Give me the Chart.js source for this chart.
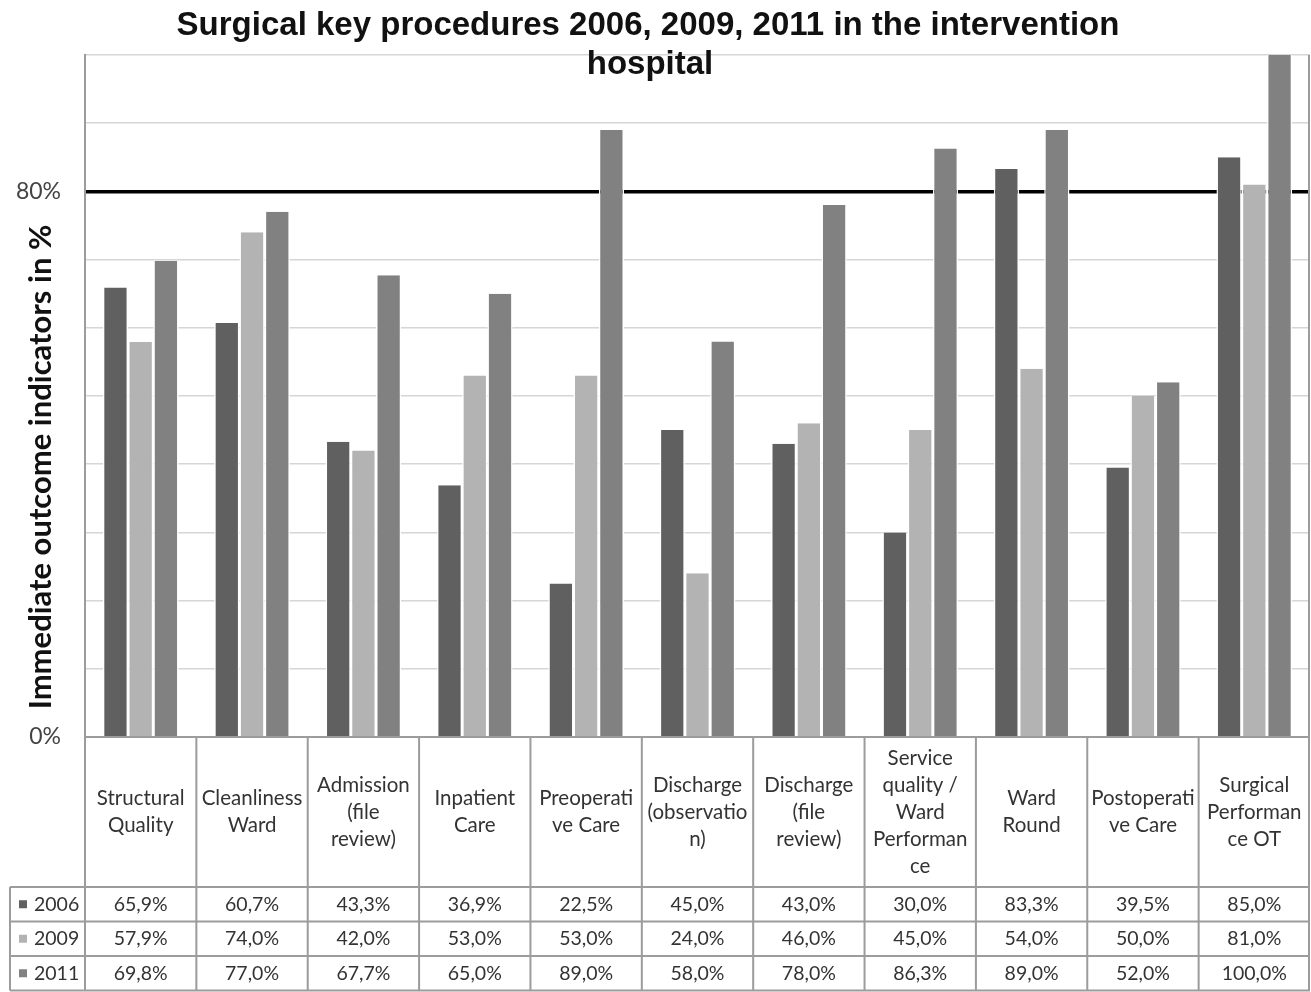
<!DOCTYPE html>
<html>
<head>
<meta charset="utf-8">
<title>Surgical key procedures</title>
<script src="https://cdn.jsdelivr.net/npm/chart.js@4.4.1/dist/chart.umd.min.js"></script>
<style>
  html, body { margin: 0; padding: 0; background: #fff; }
  canvas { display: block; }
</style>
</head>
<body>
<canvas id="chart" width="1311" height="992"></canvas>
<script>
// ─── Data ─────────────────────────────────────────────────────────────────────
const CATEGORIES = [
  ['Structural', 'Quality'],
  ['Cleanliness', 'Ward'],
  ['Admission', '(file', 'review)'],
  ['Inpatient', 'Care'],
  ['Preoperati', 've Care'],
  ['Discharge', '(observatio', 'n)'],
  ['Discharge', '(file', 'review)'],
  ['Service', 'quality /', 'Ward', 'Performan', 'ce'],
  ['Ward', 'Round'],
  ['Postoperati', 've Care'],
  ['Surgical', 'Performan', 'ce OT']
];

const YEARS = ['2006', '2009', '2011'];

const VALUES_2006 = [65.9, 60.7, 43.3, 36.9, 22.5, 45.0, 43.0, 30.0, 83.3, 39.5, 85.0];
const VALUES_2009 = [57.9, 74.0, 42.0, 53.0, 53.0, 24.0, 46.0, 45.0, 54.0, 50.0, 81.0];
const VALUES_2011 = [69.8, 77.0, 67.7, 65.0, 89.0, 58.0, 78.0, 86.3, 89.0, 52.0, 100.0];

const SERIES_COLORS = ['#606060', '#b3b3b3', '#818181'];

const TITLE_LINES = ['Surgical key procedures 2006, 2009, 2011 in the intervention', 'hospital'];
const Y_TITLE = 'Immediate outcome indicators in %';
const SHOWN_TICKS = [0, 80];

// ─── Layout ───────────────────────────────────────────────────────────────────
const PLOT_TOP = 55;
const PLOT_BOTTOM = 737;
const PLOT_LEFT = 85;
const CAT_ROW_H = 150;
const VAL_ROW_H = 34.5;
const LEGEND_LEFT = 10;
const LINE_COLOR = '#9c9c9c';
const TEXT_COLOR = '#333';

function fmtPct(v) {
  return v.toFixed(1).replace('.', ',') + '%';
}

// ─── Draws title, y title and the data table under the plot ─────────────────
const tablePlugin = {
  id: 'dataTable',
  afterDraw(chart) {
    const { ctx, chartArea } = chart;
    const xs = chart.scales.x;
    const n = CATEGORIES.length;
    const step = (chartArea.right - chartArea.left) / n;
    const top = chartArea.bottom;
    const valTop = top + CAT_ROW_H;
    const rows = [VALUES_2006, VALUES_2009, VALUES_2011];
    const tableBottom = valTop + VAL_ROW_H * rows.length;

    ctx.save();

    // plot right border
    ctx.strokeStyle = LINE_COLOR;
    ctx.lineWidth = 2;
    ctx.beginPath();
    ctx.moveTo(chartArea.right - 1, chartArea.top);
    ctx.lineTo(chartArea.right - 1, chartArea.bottom);
    ctx.stroke();

    // table grid
    ctx.beginPath();
    ctx.moveTo(chartArea.left, top);
    ctx.lineTo(chartArea.right, top);
    for (let r = 0; r <= rows.length; r++) {
      const y = valTop + r * VAL_ROW_H;
      ctx.moveTo(LEGEND_LEFT, y);
      ctx.lineTo(chartArea.right, y);
    }
    for (let i = 0; i <= n; i++) {
      const x = Math.min(chartArea.left + i * step, chartArea.right - 1);
      ctx.moveTo(x, top);
      ctx.lineTo(x, tableBottom);
    }
    ctx.moveTo(LEGEND_LEFT, valTop);
    ctx.lineTo(LEGEND_LEFT, tableBottom);
    ctx.stroke();

    // category labels
    ctx.fillStyle = TEXT_COLOR;
    ctx.font = '20.5px Lato, sans-serif';
    ctx.textAlign = 'center';
    ctx.textBaseline = 'middle';
    const lh = 27;
    CATEGORIES.forEach((lines, i) => {
      const cx = xs.getPixelForValue(i);
      const cy = top + CAT_ROW_H / 2;
      lines.forEach((line, j) => {
        ctx.fillText(line, cx, cy + (j - (lines.length - 1) / 2) * lh);
      });
    });

    // value rows with legend keys
    ctx.font = '19.5px Lato, sans-serif';
    rows.forEach((vals, r) => {
      const cy = valTop + r * VAL_ROW_H + VAL_ROW_H / 2;
      ctx.fillStyle = SERIES_COLORS[r];
      ctx.fillRect(19, cy - 4, 8, 8);
      ctx.fillStyle = TEXT_COLOR;
      ctx.textAlign = 'left';
      ctx.fillText(YEARS[r], 34, cy);
      ctx.textAlign = 'center';
      vals.forEach((v, i) => {
        ctx.fillText(fmtPct(v), xs.getPixelForValue(i), cy);
      });
    });

    // chart title
    ctx.fillStyle = '#111';
    ctx.font = 'bold 33px "Liberation Sans", Arial, sans-serif';
    ctx.textAlign = 'center';
    ctx.fillText(TITLE_LINES[0], 648, 26);
    ctx.fillText(TITLE_LINES[1], 650, 65);

    // y axis title
    ctx.translate(41, 467);
    ctx.rotate(-Math.PI / 2);
    ctx.font = 'bold 31px Lato, sans-serif';
    ctx.fillText(Y_TITLE, 0, 0);

    ctx.restore();
  }
};

// ─── Chart ────────────────────────────────────────────────────────────────────
const seriesData = [VALUES_2006, VALUES_2009, VALUES_2011];

new Chart(document.getElementById('chart'), {
  type: 'bar',
  data: {
    labels: CATEGORIES.map(c => c.join(' ')),
    datasets: YEARS.map((year, i) => ({
      label: year,
      data: seriesData[i],
      backgroundColor: SERIES_COLORS[i],
      borderColor: '#ffffff',
      borderWidth: { left: 1.5, right: 1.5, top: 0, bottom: 0 },
      borderSkipped: false,
      categoryPercentage: 0.68,
      barPercentage: 1.0
    }))
  },
  options: {
    responsive: false,
    devicePixelRatio: 1,
    animation: false,
    layout: {
      padding: { top: PLOT_TOP, bottom: 992 - PLOT_BOTTOM, left: 0, right: 1 }
    },
    plugins: {
      legend: { display: false },
      title: { display: false },
      tooltip: { enabled: false }
    },
    scales: {
      x: { display: false },
      y: {
        min: 0,
        max: 100,
        afterFit(scale) { scale.width = PLOT_LEFT; },
        border: { color: LINE_COLOR, width: 2 },
        grid: {
          drawTicks: false,
          color: c => (c.tick && c.tick.value === 80) ? '#000000' : '#d6d6d6',
          lineWidth: c => (c.tick && c.tick.value === 80) ? 3.5 : 1.5
        },
        ticks: {
          stepSize: 10,
          padding: 24,
          color: '#444',
          font: { family: 'Lato, sans-serif', size: 23 },
          callback: v => SHOWN_TICKS.includes(v) ? v + '%' : ''
        }
      }
    }
  },
  plugins: [tablePlugin]
});
</script>
</body>
</html>
